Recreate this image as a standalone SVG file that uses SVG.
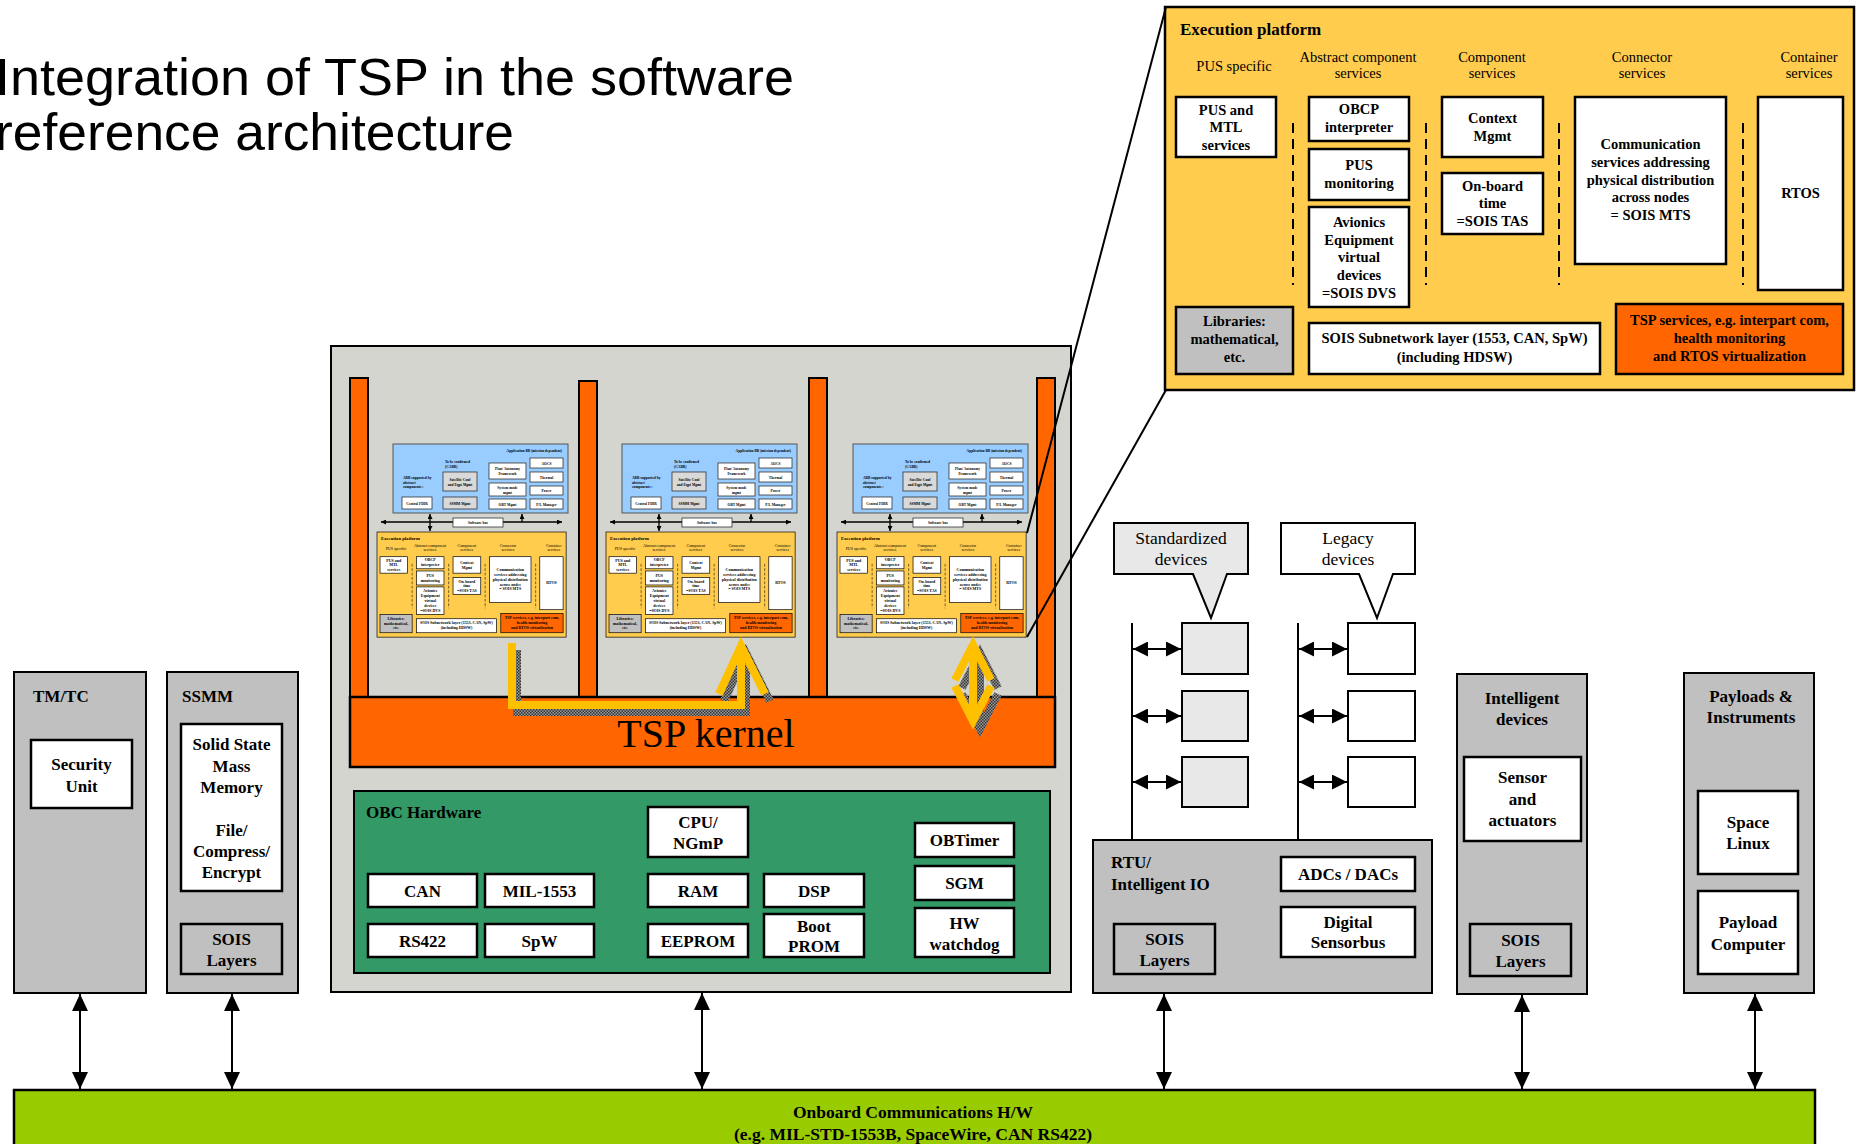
<svg xmlns="http://www.w3.org/2000/svg" xmlns:xlink="http://www.w3.org/1999/xlink" width="1860" height="1144" viewBox="0 0 1860 1144">
<style>
  .b{font-family:"Liberation Serif","Times New Roman",serif;font-weight:bold;fill:#000}
  .r{font-family:"Liberation Serif","Times New Roman",serif;fill:#000}
  .m{text-anchor:middle}
  .f17{font-size:17px}
  .f14{font-size:14.5px}
  .wbox{fill:#fff;stroke:#000;stroke-width:2.5}
  .gbox{fill:#C0C0C0;stroke:#000;stroke-width:2.5}
  .cont{fill:#C0C0C0;stroke:#000;stroke-width:2}
  .pillar{fill:#FF6600;stroke:#000;stroke-width:2}
  .dash{stroke:#000;stroke-width:2;stroke-dasharray:10 6;fill:none}
  .conn{stroke:#000;stroke-width:2;fill:none}
  .mt{font-family:"Liberation Serif","Times New Roman",serif;font-weight:bold;font-size:3.6px;fill:#000}
  .mbox{fill:#fff;stroke:#333;stroke-width:0.8}
  .mgbox{fill:#D9D9D9;stroke:#333;stroke-width:0.8}
  .yarrow{fill:none;stroke:#FFC000;stroke-width:8;stroke-linejoin:miter}
  .yshadow{fill:none;stroke:url(#hatch);stroke-width:8;stroke-linejoin:miter}
</style>
<defs>
  <marker id="ah" viewBox="0 0 10 10" refX="10" refY="5" markerWidth="17" markerHeight="16" markerUnits="userSpaceOnUse" orient="auto-start-reverse" preserveAspectRatio="none">
    <path d="M0,0 L10,5 L0,10 z" fill="#000"/>
  </marker>
  <marker id="ahd" viewBox="0 0 10 10" refX="10" refY="5" markerWidth="15" markerHeight="15" markerUnits="userSpaceOnUse" orient="auto-start-reverse" preserveAspectRatio="none">
    <path d="M0,0 L10,5 L0,10 z" fill="#000"/>
  </marker>
  <marker id="ahs" viewBox="0 0 10 10" refX="10" refY="5" markerWidth="5" markerHeight="5" markerUnits="userSpaceOnUse" orient="auto-start-reverse" preserveAspectRatio="none">
    <path d="M0,0 L10,5 L0,10 z" fill="#000"/>
  </marker>
  <pattern id="hatch" width="3" height="3" patternUnits="userSpaceOnUse">
    <rect width="3" height="3" fill="#999"/>
    <rect width="1.5" height="1.5" fill="#333"/>
    <rect x="1.5" y="1.5" width="1.5" height="1.5" fill="#333"/>
  </pattern>

  <!-- Execution platform layer, drawn in local coordinates (689 x 383) -->
  <g id="ep-template">
    <rect x="0" y="0" width="689" height="383" fill="#FFCC4D" stroke="#000" stroke-width="2.5"/>
    <text class="b" x="15" y="28" font-size="17">Execution platform</text>
    <g class="r m f14">
      <text x="69" y="64">PUS specific</text>
      <text x="193" y="55">Abstract component</text><text x="193" y="71">services</text>
      <text x="327" y="55">Component</text><text x="327" y="71">services</text>
      <text x="477" y="55">Connector</text><text x="477" y="71">services</text>
      <text x="644" y="55">Container</text><text x="644" y="71">services</text>
    </g>
    <rect class="wbox" x="11" y="90" width="100" height="60"/>
    <rect class="wbox" x="144" y="90" width="100" height="44"/>
    <rect class="wbox" x="144" y="142" width="100" height="51"/>
    <rect class="wbox" x="144" y="200" width="100" height="100"/>
    <rect class="wbox" x="277" y="90" width="101" height="60"/>
    <rect class="wbox" x="277" y="166" width="101" height="61"/>
    <rect class="wbox" x="410" y="90" width="151" height="167"/>
    <rect class="wbox" x="593" y="90" width="85" height="193"/>
    <rect class="gbox" x="11" y="300" width="117" height="67"/>
    <rect class="wbox" x="144" y="316" width="291" height="51"/>
    <rect x="451" y="297" width="227" height="70" fill="#FF6600" stroke="#000" stroke-width="2.5"/>
    <path class="dash" d="M128,116 V278 M261,116 V278 M394,116 V278 M578,116 V278"/>
    <g class="b m f14">
      <text x="61" y="108">PUS and</text><text x="61" y="125">MTL</text><text x="61" y="143">services</text>
      <text x="194" y="107">OBCP</text><text x="194" y="125">interpreter</text>
      <text x="194" y="163">PUS</text><text x="194" y="181">monitoring</text>
      <text x="194" y="220">Avionics</text><text x="194" y="238">Equipment</text><text x="194" y="255">virtual</text><text x="194" y="273">devices</text><text x="194" y="291">=SOIS DVS</text>
      <text x="327.5" y="116">Context</text><text x="327.5" y="134">Mgmt</text>
      <text x="327.5" y="184">On-board</text><text x="327.5" y="201">time</text><text x="327.5" y="219">=SOIS TAS</text>
      <text x="485.5" y="142">Communication</text><text x="485.5" y="160">services addressing</text><text x="485.5" y="178">physical distribution</text><text x="485.5" y="195">across nodes</text><text x="485.5" y="213">= SOIS MTS</text>
      <text x="635.5" y="191">RTOS</text>
      <text x="69.5" y="319">Libraries:</text><text x="69.5" y="337">mathematical,</text><text x="69.5" y="355">etc.</text>
      <text x="289.5" y="336">SOIS Subnetwork layer (1553, CAN, SpW)</text><text x="289.5" y="355">(including HDSW)</text>
      <text x="564.5" y="318">TSP services, e.g. interpart com,</text><text x="564.5" y="336">health monitoring</text><text x="564.5" y="354">and RTOS virtualization</text>
    </g>
  </g>

  <!-- Application building-block layer of a partition, in partition-1 coordinates -->
  <g id="app-template">
    <line x1="381" y1="522" x2="562" y2="522" stroke="#000" stroke-width="1.3" marker-start="url(#ahs)" marker-end="url(#ahs)"/>
    <line x1="430" y1="514" x2="430" y2="531" stroke="#000" stroke-width="1.3" marker-start="url(#ahs)" marker-end="url(#ahs)"/>
    <line x1="522" y1="522" x2="522" y2="514" stroke="#000" stroke-width="1.3" marker-end="url(#ahs)"/>
    <rect x="393" y="444" width="175" height="69" fill="#99CCFF" stroke="#555" stroke-width="1"/>
    <rect class="mbox" x="453" y="518" width="50" height="9"/>
    <text class="mt m" x="478" y="524">Software bus</text>
    <text class="mt" x="562" y="452" text-anchor="end">Application BB (mission dependent)</text>
    <text class="mt" x="445" y="463">To be confirmed</text><text class="mt" x="445" y="467.5">(CABB)</text>
    <text class="mt" x="403" y="479">ABB supported by</text><text class="mt" x="403" y="483.5">abstract</text><text class="mt" x="403" y="488">components :</text>
    <rect class="mgbox" x="443" y="472" width="34" height="19"/>
    <text class="mt m" x="460" y="480.5">Satellite Conf</text><text class="mt m" x="460" y="485.5">and Eqpt Mgmt</text>
    <rect class="mbox" x="402" y="497" width="30" height="12"/>
    <text class="mt m" x="417" y="504.5">Central FDIR</text>
    <rect class="mgbox" x="443" y="497" width="34" height="12"/>
    <text class="mt m" x="460" y="504.5">SSMM Mgmt</text>
    <rect class="mbox" x="489" y="463" width="37" height="16"/>
    <text class="mt m" x="507.5" y="469.5">Plan/ Autonomy</text><text class="mt m" x="507.5" y="474.5">Framework</text>
    <rect class="mbox" x="489" y="483" width="37" height="13"/>
    <text class="mt m" x="507.5" y="489">System mode</text><text class="mt m" x="507.5" y="494">mgmt</text>
    <rect class="mbox" x="489" y="499" width="37" height="10"/>
    <text class="mt m" x="507.5" y="505.5">OBT Mgmt</text>
    <rect class="mbox" x="530" y="458" width="33" height="10"/>
    <text class="mt m" x="546.5" y="464.5">AOCS</text>
    <rect class="mbox" x="530" y="472" width="33" height="10"/>
    <text class="mt m" x="546.5" y="478.5">Thermal</text>
    <rect class="mbox" x="530" y="486" width="33" height="9"/>
    <text class="mt m" x="546.5" y="492">Power</text>
    <rect class="mbox" x="530" y="499" width="33" height="10"/>
    <text class="mt m" x="546.5" y="505.5">P/L Manager</text>
  </g>
</defs>

<rect width="1860" height="1144" fill="#fff"/>

<!-- Slide title -->
<g id="title" font-family="'Liberation Sans', Arial, sans-serif" font-size="52" fill="#000">
  <text x="-5" y="95" textLength="799" lengthAdjust="spacingAndGlyphs">Integration of TSP in the software</text>
  <text x="-5" y="150" textLength="519" lengthAdjust="spacingAndGlyphs">reference architecture</text>
</g>

<!-- On-board computer: partitions, TSP kernel, hardware -->
<g id="obc">
  <rect x="331" y="346" width="740" height="646" fill="#D5D5D0" stroke="#000" stroke-width="2"/>
  <g id="partition-walls">
    <rect class="pillar" x="350" y="378" width="18" height="319"/>
    <rect class="pillar" x="579" y="381" width="18" height="316"/>
    <rect class="pillar" x="809" y="378" width="18" height="319"/>
    <rect class="pillar" x="1037" y="378" width="18" height="319"/>
  </g>
  <g id="partition-1">
    <use xlink:href="#app-template"/>
    <use xlink:href="#ep-template" transform="translate(377,532) scale(0.2745)"/>
  </g>
  <g id="partition-2">
    <use xlink:href="#app-template" transform="translate(229,0)"/>
    <use xlink:href="#ep-template" transform="translate(606,532) scale(0.2745)"/>
  </g>
  <g id="partition-3">
    <use xlink:href="#app-template" transform="translate(460,0)"/>
    <use xlink:href="#ep-template" transform="translate(837,532) scale(0.2745)"/>
  </g>
  <g id="tsp-kernel">
    <rect x="350" y="697" width="705" height="70" fill="#FF6600" stroke="#000" stroke-width="2.5"/>
    <text class="r m" x="706" y="747" font-size="40">TSP kernel</text>
  </g>
  <g id="obc-hardware">
    <rect x="354" y="791" width="696" height="182" fill="#339966" stroke="#000" stroke-width="2"/>
    <text class="b f17" x="366" y="818">OBC Hardware</text>
    <rect class="wbox" x="648" y="807" width="100" height="50"/>
    <rect class="wbox" x="368" y="874" width="109" height="33"/>
    <rect class="wbox" x="485" y="874" width="109" height="33"/>
    <rect class="wbox" x="368" y="924" width="109" height="33"/>
    <rect class="wbox" x="485" y="924" width="109" height="33"/>
    <rect class="wbox" x="648" y="874" width="100" height="33"/>
    <rect class="wbox" x="764" y="874" width="100" height="33"/>
    <rect class="wbox" x="648" y="924" width="100" height="33"/>
    <rect class="wbox" x="764" y="914" width="100" height="43"/>
    <rect class="wbox" x="915" y="823" width="99" height="34"/>
    <rect class="wbox" x="915" y="866" width="99" height="34"/>
    <rect class="wbox" x="915" y="908" width="99" height="49"/>
    <g class="b m f17">
      <text x="698" y="828">CPU/</text><text x="698" y="849">NGmP</text>
      <text x="422.5" y="897">CAN</text>
      <text x="539.5" y="897">MIL-1553</text>
      <text x="422.5" y="947">RS422</text>
      <text x="539.5" y="947">SpW</text>
      <text x="698" y="897">RAM</text>
      <text x="814" y="897">DSP</text>
      <text x="698" y="947">EEPROM</text>
      <text x="814" y="932">Boot</text><text x="814" y="952">PROM</text>
      <text x="964.5" y="846">OBTimer</text>
      <text x="964.5" y="889">SGM</text>
      <text x="964.5" y="929">HW</text><text x="964.5" y="950">watchdog</text>
    </g>
  </g>
  <!-- Inter-partition communication through the kernel -->
  <g id="ipc-arrows">
    <path class="yshadow" transform="translate(5,7)" d="M512,643 V705 H741 V650 M719,694 L741,646 L765,694"/>
    <path class="yarrow" d="M512,643 V705 H741 V650 M719,694 L741,646 L765,694"/>
    <path class="yshadow" transform="translate(7,8)" d="M973,650 V718 M955,680 L973,645 L991,680 M955,686 L973,721 L991,686"/>
    <path class="yarrow" d="M973,650 V718 M955,680 L973,645 L991,680 M955,686 L973,721 L991,686"/>
  </g>
</g>

<!-- Detailed execution platform -->
<g id="execution-platform">
  <use xlink:href="#ep-template" transform="translate(1165,7)"/>
</g>

<!-- TM/TC -->
<g id="tmtc">
  <rect class="cont" x="14" y="672" width="132" height="321"/>
  <text class="b f17" x="33" y="702">TM/TC</text>
  <rect class="wbox" x="31" y="740" width="101" height="68"/>
  <text class="b m f17" x="81.5" y="770">Security</text><text class="b m f17" x="81.5" y="792">Unit</text>
</g>

<!-- SSMM -->
<g id="ssmm">
  <rect class="cont" x="167" y="672" width="131" height="321"/>
  <text class="b f17" x="182" y="702">SSMM</text>
  <rect class="wbox" x="181" y="724" width="101" height="167"/>
  <g class="b m f17">
    <text x="231.5" y="750">Solid State</text><text x="231.5" y="772">Mass</text><text x="231.5" y="793">Memory</text>
    <text x="231.5" y="836">File/</text><text x="231.5" y="857">Compress/</text><text x="231.5" y="878">Encrypt</text>
  </g>
  <rect class="gbox" x="181" y="924" width="101" height="50"/>
  <text class="b m f17" x="231.5" y="945">SOIS</text><text class="b m f17" x="231.5" y="966">Layers</text>
</g>

<!-- Standardized devices -->
<g id="standardized-devices">
  <path d="M1114,523 H1248 V574 H1227 L1211,618 L1193,574 H1114 Z" fill="#E8E8E8" stroke="#000" stroke-width="2"/>
  <text class="r m" x="1181" y="544" font-size="17.5">Standardized</text>
  <text class="r m" x="1181" y="565" font-size="17.5">devices</text>
  <rect x="1182" y="623" width="66" height="51" fill="#E8E8E8" stroke="#000" stroke-width="2"/>
  <rect x="1182" y="691" width="66" height="50" fill="#E8E8E8" stroke="#000" stroke-width="2"/>
  <rect x="1182" y="757" width="66" height="50" fill="#E8E8E8" stroke="#000" stroke-width="2"/>
</g>

<!-- Legacy devices -->
<g id="legacy-devices">
  <path d="M1281,523 H1415 V574 H1393 L1377,618 L1359,574 H1281 Z" fill="#fff" stroke="#000" stroke-width="2"/>
  <text class="r m" x="1348" y="544" font-size="17.5">Legacy</text>
  <text class="r m" x="1348" y="565" font-size="17.5">devices</text>
  <rect x="1348" y="623" width="67" height="51" fill="#fff" stroke="#000" stroke-width="2"/>
  <rect x="1348" y="691" width="67" height="50" fill="#fff" stroke="#000" stroke-width="2"/>
  <rect x="1348" y="757" width="67" height="50" fill="#fff" stroke="#000" stroke-width="2"/>
</g>

<!-- RTU / Intelligent IO -->
<g id="rtu">
  <rect class="cont" x="1093" y="840" width="339" height="153"/>
  <text class="b f17" x="1111" y="868">RTU/</text>
  <text class="b f17" x="1111" y="890">Intelligent IO</text>
  <rect class="wbox" x="1281" y="857" width="134" height="34"/>
  <text class="b m f17" x="1348" y="880">ADCs / DACs</text>
  <rect class="wbox" x="1281" y="907" width="134" height="50"/>
  <text class="b m f17" x="1348" y="928">Digital</text><text class="b m f17" x="1348" y="948">Sensorbus</text>
  <rect class="gbox" x="1114" y="924" width="101" height="50"/>
  <text class="b m f17" x="1164.5" y="945">SOIS</text><text class="b m f17" x="1164.5" y="966">Layers</text>
</g>

<!-- Intelligent devices -->
<g id="intelligent-devices">
  <rect class="cont" x="1457" y="674" width="130" height="320"/>
  <text class="b m f17" x="1522" y="704">Intelligent</text><text class="b m f17" x="1522" y="725">devices</text>
  <rect class="wbox" x="1464" y="757" width="117" height="84"/>
  <text class="b m f17" x="1522.5" y="783">Sensor</text><text class="b m f17" x="1522.5" y="805">and</text><text class="b m f17" x="1522.5" y="826">actuators</text>
  <rect class="gbox" x="1470" y="924" width="101" height="52"/>
  <text class="b m f17" x="1520.5" y="946">SOIS</text><text class="b m f17" x="1520.5" y="967">Layers</text>
</g>

<!-- Payloads & Instruments -->
<g id="payloads">
  <rect class="cont" x="1684" y="673" width="130" height="320"/>
  <text class="b m f17" x="1751" y="702">Payloads &amp;</text><text class="b m f17" x="1751" y="723">Instruments</text>
  <rect class="wbox" x="1698" y="791" width="100" height="83"/>
  <text class="b m f17" x="1748" y="828">Space</text><text class="b m f17" x="1748" y="849">Linux</text>
  <rect class="wbox" x="1698" y="891" width="100" height="83"/>
  <text class="b m f17" x="1748" y="928">Payload</text><text class="b m f17" x="1748" y="950">Computer</text>
</g>

<!-- Onboard communications bus -->
<g id="onboard-bus">
  <rect x="14" y="1090" width="1801" height="70" fill="#99CC00" stroke="#000" stroke-width="2.5"/>
  <text class="b m" x="913" y="1118" font-size="17.5">Onboard Communications H/W</text>
  <text class="b m" x="913" y="1140" font-size="17.5">(e.g. MIL-STD-1553B, SpaceWire, CAN RS422)</text>
</g>

<!-- Connectors -->
<g id="connectors">
  <line class="conn" x1="1027" y1="533" x2="1166" y2="7"/>
  <line class="conn" x1="1027" y1="637" x2="1166" y2="390"/>
  <line class="conn" x1="80" y1="994" x2="80" y2="1089" marker-start="url(#ah)" marker-end="url(#ah)"/>
  <line class="conn" x1="232" y1="994" x2="232" y2="1089" marker-start="url(#ah)" marker-end="url(#ah)"/>
  <line class="conn" x1="702" y1="993" x2="702" y2="1089" marker-start="url(#ah)" marker-end="url(#ah)"/>
  <line class="conn" x1="1164" y1="994" x2="1164" y2="1089" marker-start="url(#ah)" marker-end="url(#ah)"/>
  <line class="conn" x1="1522" y1="995" x2="1522" y2="1089" marker-start="url(#ah)" marker-end="url(#ah)"/>
  <line class="conn" x1="1755" y1="994" x2="1755" y2="1089" marker-start="url(#ah)" marker-end="url(#ah)"/>
  <line class="conn" x1="1132" y1="623" x2="1132" y2="840"/>
  <line class="conn" x1="1298" y1="623" x2="1298" y2="840"/>
  <line class="conn" x1="1133" y1="649" x2="1181" y2="649" marker-start="url(#ahd)" marker-end="url(#ahd)"/>
  <line class="conn" x1="1133" y1="716" x2="1181" y2="716" marker-start="url(#ahd)" marker-end="url(#ahd)"/>
  <line class="conn" x1="1133" y1="782" x2="1181" y2="782" marker-start="url(#ahd)" marker-end="url(#ahd)"/>
  <line class="conn" x1="1299" y1="649" x2="1347" y2="649" marker-start="url(#ahd)" marker-end="url(#ahd)"/>
  <line class="conn" x1="1299" y1="716" x2="1347" y2="716" marker-start="url(#ahd)" marker-end="url(#ahd)"/>
  <line class="conn" x1="1299" y1="782" x2="1347" y2="782" marker-start="url(#ahd)" marker-end="url(#ahd)"/>
</g>
</svg>
